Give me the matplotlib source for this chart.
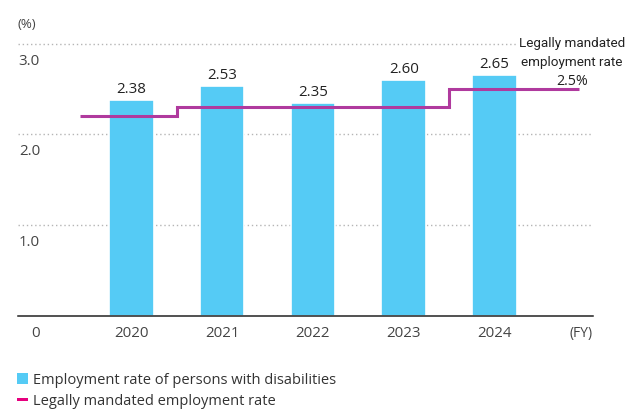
import numpy as np
import matplotlib
matplotlib.use('Agg')
import matplotlib.pyplot as plt
import matplotlib.transforms as mtransforms
from matplotlib.patches import Rectangle

years = ['2020', '2021', '2022', '2023', '2024']
rates = [2.38, 2.53, 2.35, 2.60, 2.65]
mandated = [2.2, 2.3, 2.3, 2.3, 2.5]
value_labels = ['2.38', '2.53', '2.35', '2.60', '2.65']
yticks = [0.0, 1.0, 2.0, 3.0]
ytick_labels = ['0', '1.0', '2.0', '3.0']
legend_labels = ['Employment rate of persons with disabilities',
                 'Legally mandated employment rate']
annot_lines = ['Legally mandated', 'employment rate', '2.5%']

BAR = '#55CBF5'
LINE = '#B03A9E'
PINK = '#E6007E'
GRID = '#b5b5b5'
NUM = ['Open Sans', 'DejaVu Sans']
COND = ['Roboto', 'DejaVu Sans']

W, H = 627, 411
fig = plt.figure(figsize=(W / 100, H / 100), dpi=100)
ax = fig.add_axes([18.3 / W, 95 / H, (593 - 18.3) / W, (316 - 43.5) / H])
x = np.arange(len(years))
ax.set_xlim(-1.245, 5.085)
ax.set_ylim(0, 3)
for s in ax.spines.values():
    s.set_visible(False)
ax.set_xticks([])
ax.set_yticks([])

for v in yticks[1:]:
    ax.axhline(v, color=GRID, lw=1.0, ls=(0, (1, 2)), zorder=1)
ax.axhline(0, color='#222222', lw=1.1, zorder=4, clip_on=False)

ax.bar(x, rates, width=0.49, color=BAR, edgecolor='white', linewidth=1.2, zorder=2)

edges = np.concatenate([[-0.56], x[:-1] + 0.5, [4.93]])
ax.stairs(mandated, edges, baseline=None, color=LINE, lw=2.2, zorder=3)

# value labels
vo = mtransforms.offset_copy(ax.transData, fig=fig, x=0, y=7, units='dots')
for xi, r, lab in zip(x, rates, value_labels):
    ax.text(xi, r, lab, transform=vo, ha='center', va='baseline',
            fontsize=10.8, color='#222222', family=NUM)

# x tick labels
xo = mtransforms.offset_copy(ax.transData, fig=fig, x=0, y=-21, units='dots')
for xi, lab in zip(x, years):
    ax.text(xi, 0, lab, transform=xo, ha='center', va='baseline',
            fontsize=10.8, color='#444444', family=NUM)

# y tick labels (below gridlines)
yo = mtransforms.offset_copy(ax.get_yaxis_transform(), fig=fig, x=0, y=-21, units='dots')
for v, lab in zip(yticks, ytick_labels):
    ax.text(0.0378, v, lab, transform=yo, ha='right', va='baseline',
            fontsize=10.8, color='#444444', family=NUM)
ax.text(1.0, 0, '(FY)', transform=yo, ha='right', va='baseline',
        fontsize=10, color='#444444', family=NUM)

fig.text(17 / W, 1 - 28 / H, '(%)', ha='left', va='baseline',
         fontsize=9.5, color='#444444', family=NUM)

# annotation
for i, (line, yb) in enumerate(zip(annot_lines, [46.7, 66, 85.3])):
    fam = COND if i < 2 else NUM
    fs = 9.7 if i < 2 else 10.3
    fig.text(572 / W, 1 - yb / H, line, ha='center', va='baseline',
             fontsize=fs, color='#222222', family=fam,
             bbox=dict(fc='white', ec='none', pad=1.0) if i == 0 else None)

# legend
fig.patches.append(Rectangle((17 / W, 1 - 384 / H), 11 / W, 11 / H,
                             transform=fig.transFigure, fc=BAR, ec='none'))
fig.patches.append(Rectangle((17 / W, 1 - 401.3 / H), 11 / W, 3 / H,
                             transform=fig.transFigure, fc=PINK, ec='none'))
for lab, yb in zip(legend_labels, [383.5, 405.3]):
    fig.text(33 / W, 1 - yb / H, lab, ha='left', va='baseline',
             fontsize=10.5, color='#333333', family=NUM)

fig.savefig('out.png', dpi=100)
